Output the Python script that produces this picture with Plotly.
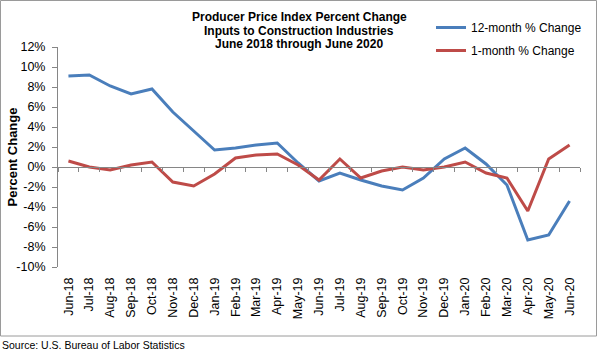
import plotly.graph_objects as go

months = ["Jun-18", "Jul-18", "Aug-18", "Sep-18", "Oct-18", "Nov-18", "Dec-18",
          "Jan-19", "Feb-19", "Mar-19", "Apr-19", "May-19", "Jun-19", "Jul-19",
          "Aug-19", "Sep-19", "Oct-19", "Nov-19", "Dec-19", "Jan-20", "Feb-20",
          "Mar-20", "Apr-20", "May-20", "Jun-20"]
twelve_month = [9.1, 9.2, 8.1, 7.3, 7.8, 5.5, 3.6, 1.7, 1.9, 2.2, 2.4, 0.4, -1.4,
                -0.6, -1.3, -1.9, -2.3, -1.1, 0.8, 1.9, 0.3, -1.8, -7.3, -6.8, -3.4]
one_month = [0.6, 0.0, -0.3, 0.2, 0.5, -1.5, -1.9, -0.7, 0.9, 1.2, 1.3, 0.2, -1.3,
             0.8, -1.1, -0.4, 0.0, -0.3, 0.0, 0.5, -0.6, -1.1, -4.4, 0.8, 2.2]
y_ticks = [-10, -8, -6, -4, -2, 0, 2, 4, 6, 8, 10, 12]
y_tick_labels = ["-10%", "-8%", "-6%", "-4%", "-2%", "0%", "2%", "4%", "6%", "8%",
                 "10%", "12%"]
title_lines = ["Producer Price Index Percent Change",
               "Inputs to Construction Industries",
               "June 2018 through June 2020"]

FONT = "Liberation Sans, Arial, sans-serif"
W, H = 600, 354
L, R, T, B = 58, 20, 47, 87
PW, PH = W - L - R, H - T - B
px = lambda p: (p - L) / PW
py = lambda p: (H - B - p) / PH

fig = go.Figure()
fig.add_trace(go.Scatter(x=months, y=twelve_month, mode="lines", name="12-month % Change",
                         line=dict(color="#4a7ebb", width=3), legendgroup="a"))
fig.add_trace(go.Scatter(x=months, y=one_month, mode="lines", name="1-month % Change",
                         line=dict(color="#be4b48", width=3), legendgroup="b"))
# helper trace for the category axis drawn at zero
fig.add_trace(go.Scatter(x=months, y=[None] * len(months), xaxis="x2", showlegend=False,
                         hoverinfo="skip"))

ymin, ymax = min(y_ticks), max(y_ticks)
fig.update_layout(
    width=W, height=H,
    margin=dict(l=L, r=R, t=T, b=B),
    paper_bgcolor="white", plot_bgcolor="white",
    font=dict(family=FONT, color="black"),
    showlegend=True,
    legend=dict(x=px(431), y=py(13), xanchor="left", yanchor="top",
                font=dict(size=12, family=FONT), traceorder="grouped",
                tracegroupgap=4, bgcolor="rgba(0,0,0,0)"),
    xaxis=dict(type="category", categoryorder="array", categoryarray=months,
               range=[-0.5, len(months) - 0.5], showline=False, showgrid=False,
               zeroline=False, ticks="", tickangle=-90, ticklabelstandoff=7,
               tickfont=dict(size=12.5, family=FONT)),
    xaxis2=dict(type="category", categoryorder="array", categoryarray=months,
                range=[-0.5, len(months) - 0.5], overlaying="x", anchor="free",
                position=(0 - ymin) / (ymax - ymin), side="bottom",
                tickson="boundaries", ticks="outside", ticklen=4, tickcolor="#868686",
                showline=True, linecolor="#868686", linewidth=1,
                showticklabels=False, showgrid=False, zeroline=False),
    yaxis=dict(range=[ymin, ymax], tickmode="array", tickvals=y_ticks,
               ticktext=y_tick_labels,
               showline=True, linecolor="#868686", linewidth=1, ticks="outside",
               ticklen=5, tickcolor="#868686", showgrid=False, zeroline=False,
               tickfont=dict(size=12.5, family=FONT), ticklabelstandoff=4),
)

annotations = []
for i, (txt, yc) in enumerate(zip(title_lines, [16.7, 30.8, 44.5])):
    annotations.append(dict(text="<b>%s</b>" % txt, xref="paper", yref="paper",
                            x=px(299), y=py(yc), xanchor="center", yanchor="middle",
                            showarrow=False, font=dict(size=12, family=FONT)))
annotations.append(dict(text="<b>Percent Change</b>", xref="paper", yref="paper",
                        x=px(11.5), y=py(157), textangle=-90, xanchor="center",
                        yanchor="middle", showarrow=False, font=dict(size=13, family=FONT)))
annotations.append(dict(text="Source: U.S. Bureau of Labor Statistics", xref="paper",
                        yref="paper", x=px(0), y=py(345), xanchor="left", yanchor="middle",
                        showarrow=False, font=dict(size=10.5, family=FONT)))
fig.update_layout(annotations=annotations)

fig.add_shape(type="rect", xref="paper", yref="paper", x0=px(0.5), x1=px(596.5),
              y0=py(336), y1=py(0.5), line=dict(color="#9a9a9a", width=1),
              fillcolor="rgba(0,0,0,0)", layer="below")

fig.write_html("out.html")
